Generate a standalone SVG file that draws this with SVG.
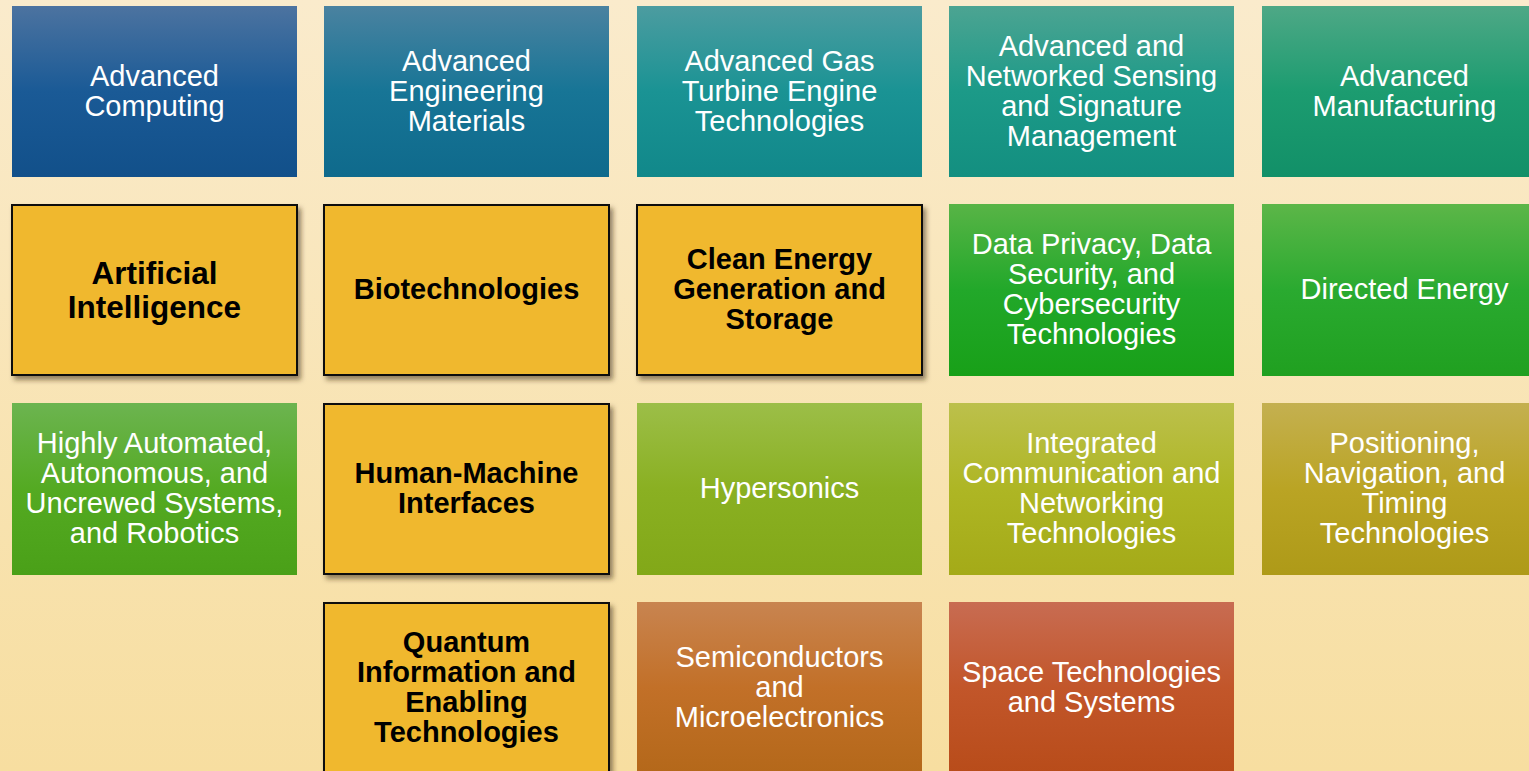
<svg xmlns="http://www.w3.org/2000/svg" width="1529" height="771" viewBox="0 0 1529 771">
<style>
.w{font-family:"Liberation Sans",Arial,sans-serif;font-size:29px;fill:#ffffff;text-anchor:middle}
.b{font-family:"Liberation Sans",Arial,sans-serif;font-size:29px;font-weight:bold;fill:#000000;text-anchor:middle}
.y{fill:#F0B82F;stroke:#111111;stroke-width:2;filter:url(#sh)}
</style>
<defs>
<linearGradient id="bg" x1="0" y1="0" x2="0" y2="1"><stop offset="0" stop-color="#FAEBCC"/><stop offset="1" stop-color="#F7DEA0"/></linearGradient>
<filter id="sh" x="-10%" y="-10%" width="125%" height="125%"><feDropShadow dx="3" dy="4" stdDeviation="2.5" flood-color="#3a2a10" flood-opacity="0.55"/></filter>
<linearGradient id="g1" x1="0" y1="0" x2="0" y2="1"><stop offset="0" stop-color="#4C73A0"/><stop offset="0.5" stop-color="#1A5A96"/><stop offset="1" stop-color="#12508A"/></linearGradient>
<linearGradient id="g2" x1="0" y1="0" x2="0" y2="1"><stop offset="0" stop-color="#4A82A0"/><stop offset="0.5" stop-color="#177596"/><stop offset="1" stop-color="#0F6A8C"/></linearGradient>
<linearGradient id="g3" x1="0" y1="0" x2="0" y2="1"><stop offset="0" stop-color="#4C9CA0"/><stop offset="0.5" stop-color="#1A9394"/><stop offset="1" stop-color="#11888A"/></linearGradient>
<linearGradient id="g4" x1="0" y1="0" x2="0" y2="1"><stop offset="0" stop-color="#4CA492"/><stop offset="0.5" stop-color="#1C9A88"/><stop offset="1" stop-color="#138F80"/></linearGradient>
<linearGradient id="g5" x1="0" y1="0" x2="0" y2="1"><stop offset="0" stop-color="#4EA886"/><stop offset="0.5" stop-color="#1C9C70"/><stop offset="1" stop-color="#129068"/></linearGradient>
<linearGradient id="g6" x1="0" y1="0" x2="0" y2="1"><stop offset="0" stop-color="#58B446"/><stop offset="0.5" stop-color="#22A82A"/><stop offset="1" stop-color="#18A018"/></linearGradient>
<linearGradient id="g7" x1="0" y1="0" x2="0" y2="1"><stop offset="0" stop-color="#5CB648"/><stop offset="0.5" stop-color="#2AAA30"/><stop offset="1" stop-color="#20A020"/></linearGradient>
<linearGradient id="g8" x1="0" y1="0" x2="0" y2="1"><stop offset="0" stop-color="#6CB450"/><stop offset="0.5" stop-color="#54AA22"/><stop offset="1" stop-color="#4AA018"/></linearGradient>
<linearGradient id="g9" x1="0" y1="0" x2="0" y2="1"><stop offset="0" stop-color="#9CBE48"/><stop offset="0.5" stop-color="#8AB022"/><stop offset="1" stop-color="#82A818"/></linearGradient>
<linearGradient id="g10" x1="0" y1="0" x2="0" y2="1"><stop offset="0" stop-color="#BCC04C"/><stop offset="0.5" stop-color="#AEB624"/><stop offset="1" stop-color="#A4AA18"/></linearGradient>
<linearGradient id="g11" x1="0" y1="0" x2="0" y2="1"><stop offset="0" stop-color="#C4B050"/><stop offset="0.5" stop-color="#BAA424"/><stop offset="1" stop-color="#AE9A18"/></linearGradient>
<linearGradient id="g12" x1="0" y1="0" x2="0" y2="1"><stop offset="0" stop-color="#C88450"/><stop offset="0.5" stop-color="#C27028"/><stop offset="1" stop-color="#B4681A"/></linearGradient>
<linearGradient id="g13" x1="0" y1="0" x2="0" y2="1"><stop offset="0" stop-color="#C86C52"/><stop offset="0.5" stop-color="#C2562A"/><stop offset="1" stop-color="#B84C1A"/></linearGradient>
</defs>
<rect x="0" y="0" width="1529" height="771" fill="url(#bg)"/>

<g id="advanced-computing"><rect x="12" y="6" width="285" height="171" fill="url(#g1)"/>
<text class="w"><tspan x="154.5" y="85.5">Advanced</tspan><tspan x="154.5" y="115.5">Computing</tspan></text></g>
<g id="advanced-engineering-materials"><rect x="324" y="6" width="285" height="171" fill="url(#g2)"/>
<text class="w"><tspan x="466.5" y="70.5">Advanced</tspan><tspan x="466.5" y="100.5">Engineering</tspan><tspan x="466.5" y="130.5">Materials</tspan></text></g>
<g id="advanced-gas-turbine"><rect x="637" y="6" width="285" height="171" fill="url(#g3)"/>
<text class="w"><tspan x="779.5" y="70.5">Advanced Gas</tspan><tspan x="779.5" y="100.5">Turbine Engine</tspan><tspan x="779.5" y="130.5">Technologies</tspan></text></g>
<g id="advanced-sensing"><rect x="949" y="6" width="285" height="171" fill="url(#g4)"/>
<text class="w"><tspan x="1091.5" y="55.5">Advanced and</tspan><tspan x="1091.5" y="85.5">Networked Sensing</tspan><tspan x="1091.5" y="115.5">and Signature</tspan><tspan x="1091.5" y="145.5">Management</tspan></text></g>
<g id="advanced-manufacturing"><rect x="1262" y="6" width="285" height="171" fill="url(#g5)"/>
<text class="w"><tspan x="1404.5" y="85.5">Advanced</tspan><tspan x="1404.5" y="115.5">Manufacturing</tspan></text></g>

<g id="artificial-intelligence"><rect class="y" x="12" y="205" width="285" height="170"/>
<text class="b" style="font-size:31.5px"><tspan x="154.5" y="284">Artificial</tspan><tspan x="154.5" y="318">Intelligence</tspan></text></g>
<g id="biotechnologies"><rect class="y" x="324" y="205" width="285" height="170"/>
<text class="b"><tspan x="466.5" y="299">Biotechnologies</tspan></text></g>
<g id="clean-energy"><rect class="y" x="637" y="205" width="285" height="170"/>
<text class="b"><tspan x="779.5" y="269">Clean Energy</tspan><tspan x="779.5" y="299">Generation and</tspan><tspan x="779.5" y="329">Storage</tspan></text></g>
<g id="data-privacy"><rect x="949" y="204" width="285" height="172" fill="url(#g6)"/>
<text class="w"><tspan x="1091.5" y="254">Data Privacy, Data</tspan><tspan x="1091.5" y="284">Security, and</tspan><tspan x="1091.5" y="314">Cybersecurity</tspan><tspan x="1091.5" y="344">Technologies</tspan></text></g>
<g id="directed-energy"><rect x="1262" y="204" width="285" height="172" fill="url(#g7)"/>
<text class="w"><tspan x="1404.5" y="299">Directed Energy</tspan></text></g>

<g id="autonomous-systems"><rect x="12" y="403" width="285" height="172" fill="url(#g8)"/>
<text class="w"><tspan x="154.5" y="453">Highly Automated,</tspan><tspan x="154.5" y="483">Autonomous, and</tspan><tspan x="154.5" y="513">Uncrewed Systems,</tspan><tspan x="154.5" y="543">and Robotics</tspan></text></g>
<g id="human-machine-interfaces"><rect class="y" x="324" y="404" width="285" height="170"/>
<text class="b"><tspan x="466.5" y="483">Human-Machine</tspan><tspan x="466.5" y="513">Interfaces</tspan></text></g>
<g id="hypersonics"><rect x="637" y="403" width="285" height="172" fill="url(#g9)"/>
<text class="w"><tspan x="779.5" y="498">Hypersonics</tspan></text></g>
<g id="integrated-communication"><rect x="949" y="403" width="285" height="172" fill="url(#g10)"/>
<text class="w"><tspan x="1091.5" y="453">Integrated</tspan><tspan x="1091.5" y="483">Communication and</tspan><tspan x="1091.5" y="513">Networking</tspan><tspan x="1091.5" y="543">Technologies</tspan></text></g>
<g id="pnt"><rect x="1262" y="403" width="285" height="172" fill="url(#g11)"/>
<text class="w"><tspan x="1404.5" y="453">Positioning,</tspan><tspan x="1404.5" y="483">Navigation, and</tspan><tspan x="1404.5" y="513">Timing</tspan><tspan x="1404.5" y="543">Technologies</tspan></text></g>

<g id="quantum"><rect class="y" x="324" y="603" width="285" height="175"/>
<text class="b"><tspan x="466.5" y="651.5">Quantum</tspan><tspan x="466.5" y="681.5">Information and</tspan><tspan x="466.5" y="711.5">Enabling</tspan><tspan x="466.5" y="741.5">Technologies</tspan></text></g>
<g id="semiconductors"><rect x="637" y="602" width="285" height="171" fill="url(#g12)"/>
<text class="w"><tspan x="779.5" y="666.5">Semiconductors</tspan><tspan x="779.5" y="696.5">and</tspan><tspan x="779.5" y="726.5">Microelectronics</tspan></text></g>
<g id="space"><rect x="949" y="602" width="285" height="171" fill="url(#g13)"/>
<text class="w"><tspan x="1091.5" y="681.5">Space Technologies</tspan><tspan x="1091.5" y="711.5">and Systems</tspan></text></g>

<g id="connectors"/>
</svg>
